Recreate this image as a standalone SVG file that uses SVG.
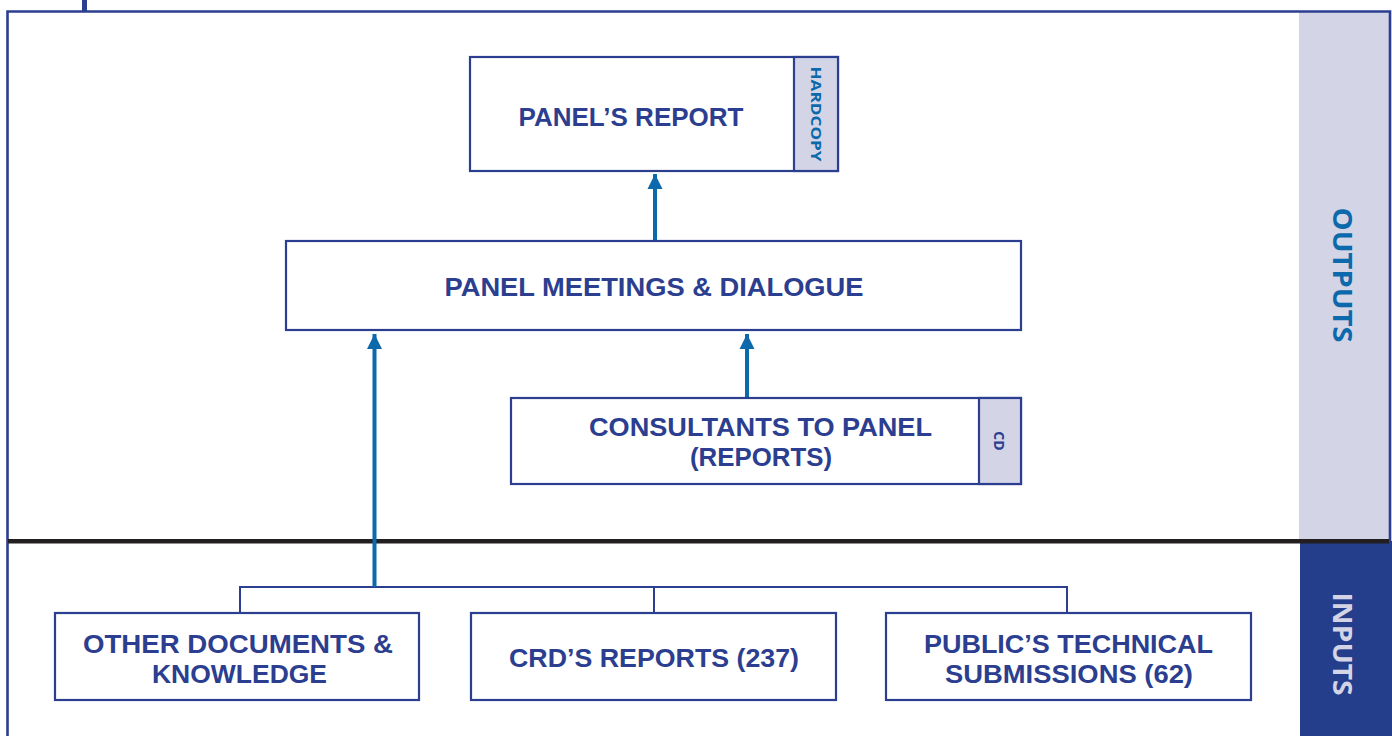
<svg xmlns="http://www.w3.org/2000/svg" width="1392" height="736" viewBox="0 0 1392 736">
<defs>
<style>
.box{fill:#ffffff;stroke:#2b3e8f;stroke-width:2.2}
.tab{fill:#d3d5e7;stroke:#2b3e8f;stroke-width:2.2}
.t{font-family:"Liberation Sans",Arial,sans-serif;font-weight:700;font-size:26px;fill:#2b3e8f;text-anchor:middle}
.side{font-family:"Open Sans","Liberation Sans",sans-serif;font-weight:700;font-size:27px;text-anchor:middle}
.small{font-family:"Open Sans","Liberation Sans",sans-serif;font-weight:700;font-size:14px;text-anchor:middle}
.br{fill:none;stroke:#2b3e8f;stroke-width:2}
.arr{fill:none;stroke:#0c69ab;stroke-width:4}
</style>
<marker id="ah" markerUnits="userSpaceOnUse" markerWidth="16" markerHeight="16" viewBox="0 0 16 16" refX="15" refY="8" orient="auto">
<path d="M0,0.5 L15,8 L0,15.5 Z" fill="#0c69ab"/>
</marker>
</defs>

<g id="frame">
<rect x="0" y="0" width="1392" height="736" fill="#ffffff"/>
<rect x="1299" y="11" width="91" height="530" fill="#d3d5e7"/>
<rect x="1300" y="541" width="92" height="195" fill="#243e8b"/>
<path d="M7.5,736 V11.5 H1390 V541" fill="none" stroke="#2b3e8f" stroke-width="2.6"/>
<rect x="82" y="0" width="5" height="11" fill="#2b3e8f"/>
<rect x="8" y="539" width="1381" height="4.5" fill="#231f20"/>
<text class="side" fill="#0c69ab" transform="translate(1333,275) rotate(90)" textLength="135" lengthAdjust="spacingAndGlyphs">OUTPUTS</text>
<text class="side" fill="#d3d5e7" transform="translate(1333,644) rotate(90)" textLength="103" lengthAdjust="spacingAndGlyphs">INPUTS</text>
</g>

<g id="connectors">
<path class="br" d="M240,613 V587 H1067 V613 M654,587 V613"/>
<line class="arr" x1="374.5" y1="587" x2="374.5" y2="334" marker-end="url(#ah)"/>
<line class="arr" x1="747" y1="398" x2="747" y2="334" marker-end="url(#ah)"/>
<line class="arr" x1="655" y1="241" x2="655" y2="174" marker-end="url(#ah)"/>
</g>

<g id="panels-report">
<rect class="box" x="470" y="57" width="368" height="114"/>
<rect class="tab" x="794" y="57" width="44" height="114"/>
<text class="t" x="631" y="126" textLength="225" lengthAdjust="spacingAndGlyphs">PANEL’S REPORT</text>
<text class="small" fill="#0c69ab" transform="translate(811,114) rotate(90)" textLength="95" lengthAdjust="spacingAndGlyphs">HARDCOPY</text>
</g>

<g id="panel-meetings">
<rect class="box" x="286" y="241" width="735" height="89"/>
<text class="t" x="654" y="296" textLength="419" lengthAdjust="spacingAndGlyphs">PANEL MEETINGS &amp; DIALOGUE</text>
</g>

<g id="consultants">
<rect class="box" x="511" y="398" width="510" height="86"/>
<rect class="tab" x="979" y="398" width="42" height="86"/>
<text class="t" x="760.5" y="436" textLength="343" lengthAdjust="spacingAndGlyphs">CONSULTANTS TO PANEL</text>
<text class="t" x="761" y="466" textLength="142" lengthAdjust="spacingAndGlyphs">(REPORTS)</text>
<text class="small" fill="#2b3e8f" transform="translate(994,441) rotate(90)">CD</text>
</g>

<g id="other-documents">
<rect class="box" x="55" y="613" width="364" height="87"/>
<text class="t" x="238" y="653" textLength="310" lengthAdjust="spacingAndGlyphs">OTHER DOCUMENTS &amp;</text>
<text class="t" x="239.5" y="683" textLength="175" lengthAdjust="spacingAndGlyphs">KNOWLEDGE</text>
</g>

<g id="crd-reports">
<rect class="box" x="471" y="613" width="365" height="87"/>
<text class="t" x="654" y="667" textLength="290" lengthAdjust="spacingAndGlyphs">CRD’S REPORTS (237)</text>
</g>

<g id="public-submissions">
<rect class="box" x="886" y="613" width="365" height="87"/>
<text class="t" x="1068.5" y="653" textLength="289" lengthAdjust="spacingAndGlyphs">PUBLIC’S TECHNICAL</text>
<text class="t" x="1069" y="683" textLength="248" lengthAdjust="spacingAndGlyphs">SUBMISSIONS (62)</text>
</g>
</svg>
